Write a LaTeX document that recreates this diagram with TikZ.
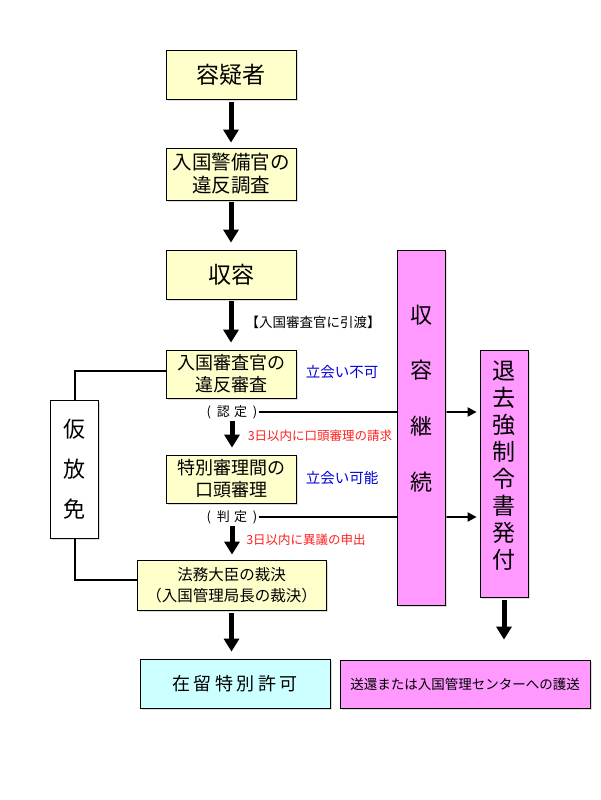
\documentclass[tikz,border=0pt]{standalone}
\usepackage{fontspec}
\setmainfont{Noto Sans CJK JP}
\usetikzlibrary{arrows.meta,shadows}
\definecolor{yel}{HTML}{FFFFCC}
\definecolor{cya}{HTML}{CCFFFF}
\definecolor{pnk}{HTML}{FF99FF}
\definecolor{lblue}{HTML}{0000DD}
\definecolor{lred}{HTML}{FF2020}
\newcommand{\fs}[2]{\fontsize{#1}{#2}\selectfont}
\begin{document}
\begin{tikzpicture}[x=1pt,y=-1pt,
  box/.style={draw=black, line width=0.8pt, inner sep=0pt, align=center,
    drop shadow={shadow xshift=1.5pt, shadow yshift=-1.5pt, fill=gray!45, opacity=0.6}},
  ybox/.style={box, fill=yel, minimum width=130pt},
  pbox/.style={box, fill=pnk},
  bigarrow/.style={line width=5pt, -{Triangle[width=15pt,length=13pt]}},
  smallarrow/.style={line width=2pt, -{Triangle[width=9pt,length=9pt]}},
  conn/.style={line width=2pt},
  blue label/.style={text=lblue, font=\fs{14.5}{17}},
  red label/.style={text=lred, font=\fs{12.5}{15}},
  paren label/.style={font=\fs{13}{15}, inner sep=1pt},
  vtext/.style={align=center, inner sep=0pt}
]
\useasboundingbox (0,0) rectangle (600,800);
\fill[white] (0,0) rectangle (600,800);

% main column
\node[ybox, minimum height=49pt, font=\fs{23}{27}] (s1) at (231,74.5) {容疑者};
\node[ybox, minimum height=52pt, font=\fs{19.5}{23}] (s2) at (231,174) {入国警備官の\\違反調査};
\node[ybox, minimum height=49pt, font=\fs{23}{27}] (s3) at (231,274.5) {収容};
\node[ybox, minimum height=48pt, font=\fs{18}{22}] (s4) at (231,374) {入国審査官の\\違反審査};
\node[ybox, minimum height=48pt, font=\fs{18}{22}] (s5) at (231,479) {特別審理間の\\口頭審理};
\node[ybox, minimum width=189pt, minimum height=50pt, font=\fs{15.5}{21}] (s6) at (231.5,585) {法務大臣の裁決\\（入国管理局長の裁決）};
\node[box, fill=cya, minimum width=190pt, minimum height=49pt, font=\fs{18}{22}] (s7) at (235,683.5) {在\hspace{3.4pt}留\hspace{3.4pt}特\hspace{3.4pt}別\hspace{3.4pt}許\hspace{3.4pt}可};

% labels
\node[font=\fs{13.5}{16}] (hw) at (313,322) {【入国審査官に引渡】};
\node[blue label] (fuka) at (342,372) {立会い不可};
\node[blue label] (kanou) at (342,478) {立会い可能};
\node[paren label] (nintei) at (232,412) {(\hspace{6pt}認\hspace{4pt}定\hspace{6pt})};
\node[paren label] (hantei) at (232,517) {(\hspace{6pt}判\hspace{4pt}定\hspace{6pt})};
\node[red label] (r1) at (320,436) {3日以内に口頭審理の請求};
\node[red label] (r2) at (306,540) {3日以内に異議の申出};

% right side
\node[box, fill=pnk, minimum width=250pt, minimum height=48pt, font=\fs{13.5}{16}] (s8) at (465,684) {送還または入国管理センターへの護送};
\node[pbox, minimum width=48pt, minimum height=247pt] (taikyo) at (504,473.5) {};
\node[vtext, font=\fs{23}{27}] (taikyot) at (504,466) {退\\去\\強\\制\\令\\書\\発\\付};

% horizontal lines (behind the 収容継続 box)
\draw[smallarrow, shorten >=3pt] (nintei.east) -- (taikyo.west |- nintei);
\draw[smallarrow, shorten >=3pt] (hantei.east) -- (taikyo.west |- hantei);

\node[pbox, minimum width=48pt, minimum height=355pt] (keizoku) at (421,427.5) {};
\node[vtext, font=\fs{22}{55.7}] (keizokut) at (421,398.5) {収\\容\\継\\続};

% 仮放免
\node[box, fill=white, minimum width=48pt, minimum height=138pt, font=\fs{22}{40}] (kari) at (74.5,469) {仮\\放\\免};
\draw[conn] (kari.north) |- ([yshift=3pt]s4.west);
\draw[conn] (kari.south) |- ([yshift=5pt]s6.west);

% vertical arrows
\draw[bigarrow, shorten <=3pt, shorten >=5pt] (s1.south) -- (s2.north);
\draw[bigarrow, shorten <=2pt, shorten >=7pt] (s2.south) -- (s3.north);
\draw[bigarrow, shorten <=2pt, shorten >=7pt] (s3.south) -- (s4.north);
\draw[bigarrow, shorten <=1pt, shorten >=7pt] (nintei.south) -- (nintei.south |- s5.north);
\draw[bigarrow, shorten <=1pt, shorten >=5pt] (hantei.south) -- (hantei.south |- s6.north);
\draw[bigarrow, shorten <=3pt, shorten >=7pt] (s6.south) -- (s6.south |- s7.north);
\draw[bigarrow, shorten <=3pt, shorten >=20pt] (taikyo.south) -- (taikyo.south |- s8.north);
\end{tikzpicture}
\end{document}
